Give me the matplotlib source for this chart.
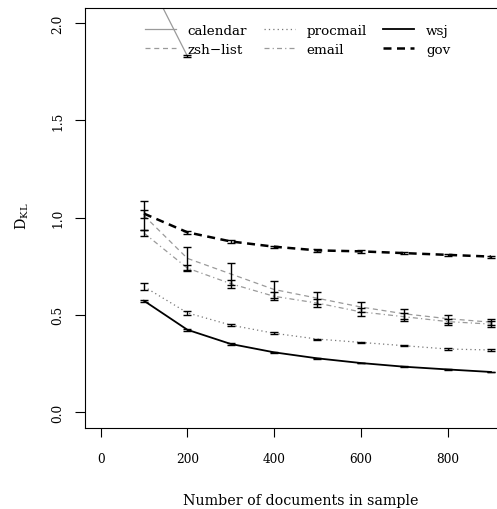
import matplotlib
matplotlib.use('Agg')
import matplotlib.pyplot as plt

plt.rcParams['font.family'] = ['DejaVu Serif']
plt.rcParams['mathtext.fontset'] = 'dejavuserif'

# sample sizes
sizes = [100, 200, 300, 400, 500, 600, 700, 800, 900]

# calendar only has two sample sizes
calendar_x = [100, 200]
calendar_y = [2.27, 1.83]
calendar_err = [0.02, 0.006]

zsh_y = [1.01, 0.79, 0.71, 0.63, 0.585, 0.54, 0.505, 0.48, 0.462]
zsh_err = [0.075, 0.06, 0.055, 0.045, 0.03, 0.025, 0.025, 0.02, 0.015]

procmail_y = [0.645, 0.51, 0.447, 0.405, 0.375, 0.358, 0.341, 0.324, 0.319]
procmail_err = [0.018, 0.01, 0.006, 0.004, 0.003, 0.003, 0.003, 0.003, 0.006]

email_y = [0.92, 0.74, 0.66, 0.595, 0.56, 0.515, 0.49, 0.465, 0.452]
email_err = [0.015, 0.015, 0.02, 0.02, 0.02, 0.02, 0.02, 0.015, 0.015]

wsj_y = [0.572, 0.423, 0.35, 0.307, 0.276, 0.252, 0.233, 0.219, 0.206]
wsj_err = [0.004, 0.004, 0.003, 0.003, 0.003, 0.002, 0.002, 0.002, 0.002]

gov_y = [1.02, 0.924, 0.877, 0.85, 0.831, 0.826, 0.817, 0.808, 0.799]
gov_err = [0.02, 0.008, 0.008, 0.006, 0.006, 0.006, 0.005, 0.005, 0.005]

gray = '#9a9a9a'

fig = plt.figure(figsize=(4.97, 5.10), dpi=100)
# axes run past the right edge, like the cropped original
ax = fig.add_axes([85 / 497, 81 / 510, 432 / 497, 420 / 510])

ax.plot(calendar_x, calendar_y, color=gray, lw=0.9, label='calendar')
ax.plot(sizes, zsh_y, color=gray, lw=0.9, dashes=(4, 3), label='zsh\u2212list')
ax.plot(sizes, procmail_y, color='#777777', lw=0.9, dashes=(1, 2.5), label='procmail')
ax.plot(sizes, email_y, color=gray, lw=0.9, dashes=(4, 2.5, 1, 2.5), label='email')
ax.plot(sizes, wsj_y, color='black', lw=1.3, label='wsj')
ax.plot(sizes, gov_y, color='black', lw=1.8, dashes=(3.2, 2.2), label='gov')

for xs, ys, es in [(calendar_x, calendar_y, calendar_err),
                   (sizes, zsh_y, zsh_err),
                   (sizes, procmail_y, procmail_err),
                   (sizes, email_y, email_err),
                   (sizes, wsj_y, wsj_err),
                   (sizes, gov_y, gov_err)]:
    ax.errorbar(xs, ys, yerr=es, fmt='none', ecolor='black', elinewidth=1,
                capsize=3, capthick=1)

ax.set_xlim(-36, 960)
ax.set_ylim(-0.082, 2.077)
ax.set_xticks([0, 200, 400, 600, 800])
ax.set_yticks([0.0, 0.5, 1.0, 1.5, 2.0])
ax.set_yticklabels(['0.0', '0.5', '1.0', '1.5', '2.0'], rotation=90, va='center')
ax.tick_params(axis='x', length=6.5, width=0.8, pad=11, labelsize=8.7)
ax.tick_params(axis='y', length=7, width=0.8, pad=8, labelsize=8.7)
for s in ax.spines.values():
    s.set_linewidth(0.8)

ax.set_xlabel('Number of documents in sample', fontsize=10.3, labelpad=20)
fig.text(22 / 497, 1 - 216 / 510, r'$\mathrm{D}_{\mathrm{KL}}$', rotation=90,
         fontsize=10.3, ha='center', va='center')

ax.legend(ncol=3, frameon=False, fontsize=9.7, loc='upper left',
          bbox_to_anchor=(138 / 497, 1 - 18 / 510), bbox_transform=fig.transFigure,
          borderpad=0, handlelength=2.3, handletextpad=0.9, columnspacing=1.2,
          labelspacing=0.45)

fig.savefig('out.png', dpi=100)
